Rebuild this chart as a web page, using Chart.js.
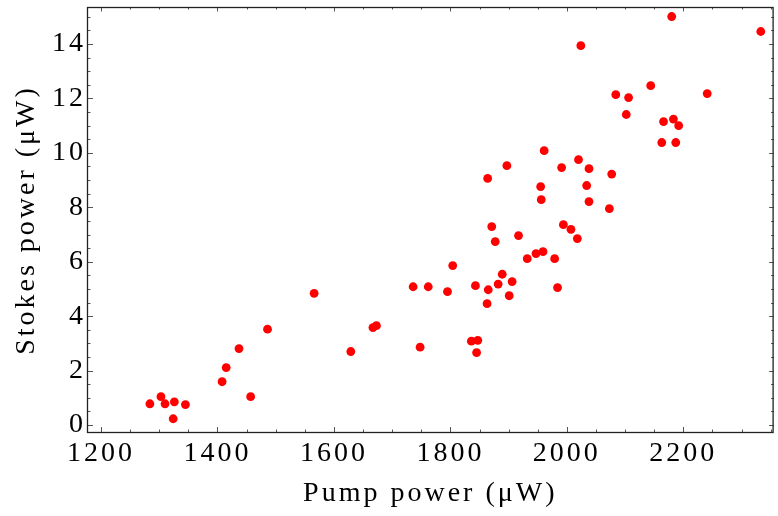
<!DOCTYPE html>
<html>
<head>
<meta charset="utf-8">
<script src="https://cdn.jsdelivr.net/npm/chart.js@4"></script>
<style>
  html,body{margin:0;padding:0;background:#fff;}
  #wrap{width:778px;height:516px;}
</style>
</head>
<body>
<div id="wrap"><canvas id="plot" width="778" height="516"></canvas></div>
<script>
// pump power (uW) and Stokes power (uW)
var pumpPower=[1284,1303,1310,1324,1326,1345,1408,1415,1437,1457,1486,
  1566,1629,1667,1673,1736,1762,1748,1795,1804,1836,1847,1845,1843,1865,1863,
  1877,1871,1917,1897,1864,1961,1991,2020,2038,2077,1955,2034,1956,2038,2073,
  1994,2007,2018,1932,1947,1959,1979,1889,1882,1906,1901,1984,
  2180,2333,2024,2144,2084,2106,2241,2102,2166,2183,2192,2163,2187];
var stokesPower=[0.78,1.04,0.78,0.23,0.85,0.75,1.59,2.11,2.81,1.04,3.52,
  4.84,2.70,3.58,3.65,5.08,5.08,2.86,4.90,5.86,3.08,3.11,2.66,5.12,4.97,4.46,
  6.74,7.29,6.96,9.53,9.06,10.08,9.46,9.75,9.42,9.22,8.76,8.80,8.28,8.21,7.95,
  7.36,7.19,6.85,6.11,6.30,6.37,6.11,5.54,5.18,5.27,4.75,5.05,
  15.01,14.46,13.94,12.47,12.14,12.03,12.18,11.41,11.15,11.24,11.00,10.38,10.38];
var xTicks=[1200,1400,1600,1800,2000,2200];
var yTicks=[0,2,4,6,8,10,12,14];

var points=pumpPower.map(function(p,i){return {x:p,y:stokesPower[i]};});
var serif='"Liberation Serif","Times New Roman",serif';

// Mathematica-like frame with inward ticks on all four sides
var framePlugin={
  id:'frame',
  beforeDraw:function(chart){
    chart.ctx.letterSpacing='3px';
  },
  afterDatasetsDraw:function(chart){
    var ctx=chart.ctx, a=chart.chartArea, sx=chart.scales.x, sy=chart.scales.y;
    ctx.save();
    ctx.strokeStyle='#555';
    ctx.lineWidth=1;
    ctx.beginPath();
    var v,px,major;
    for(v=1150;v<=sx.max;v+=50){
      if(v<sx.min)continue;
      px=Math.round(sx.getPixelForValue(v))+0.5;
      major=(v%200===0);
      ctx.moveTo(px,a.bottom);ctx.lineTo(px,a.bottom-(major?6:3.5));
      ctx.moveTo(px,a.top);ctx.lineTo(px,a.top+(major?4.5:2.5));
    }
    for(v=0;v<=sy.max;v+=0.5){
      px=Math.round(sy.getPixelForValue(v))+0.5;
      major=(Math.abs(v%2)<1e-9);
      ctx.moveTo(a.left,px);ctx.lineTo(a.left+(major?6:3.5),px);
      ctx.moveTo(a.right,px);ctx.lineTo(a.right-(major?4.5:2.5),px);
    }
    ctx.stroke();
    ctx.strokeStyle='#222';
    ctx.lineWidth=1.3;
    ctx.strokeRect(a.left+0.5,a.top+0.5,a.right-a.left-1,a.bottom-a.top-1);
    ctx.restore();
  }
};

new Chart(document.getElementById('plot'),{
  type:'scatter',
  data:{datasets:[{
    data:points,
    backgroundColor:'#ff0000',
    borderColor:'#ff0000',
    borderWidth:0,
    pointRadius:4.4,
    pointHoverRadius:4.4
  }]},
  options:{
    responsive:false,
    animation:false,
    events:[],
    layout:{padding:{top:7,right:1,left:0,bottom:0}},
    plugins:{legend:{display:false},tooltip:{enabled:false}},
    scales:{
      x:{
        type:'linear',min:1176,max:2355,
        grid:{display:false,drawTicks:false},
        border:{display:false},
        afterBuildTicks:function(s){s.ticks=xTicks.map(function(v){return {value:v};});},
        afterFit:function(s){s.height=83;s.paddingLeft=0;s.paddingRight=0;},
        ticks:{autoSkip:false,maxRotation:0,padding:4,color:'#000',
          callback:function(v){return String(v);},
          font:{family:serif,size:28}},
        title:{display:true,text:'Pump power (\u03bcW)',color:'#000',padding:{top:0,bottom:6},
          font:{family:serif,size:28}}
      },
      y:{
        type:'linear',min:-0.294,max:15.36,
        grid:{display:false,drawTicks:false},
        border:{display:false},
        afterBuildTicks:function(s){s.ticks=yTicks.map(function(v){return {value:v};});},
        afterFit:function(s){s.width=87;s.paddingTop=0;s.paddingBottom=0;},
        ticks:{autoSkip:false,padding:1,color:'#000',
          callback:function(v){return String(v);},
          font:{family:serif,size:28}},
        title:{display:true,text:'Stokes power (\u03bcW)',color:'#000',padding:{top:10,bottom:0},
          font:{family:serif,size:28}}
      }
    }
  },
  plugins:[framePlugin]
});
</script>
</body>
</html>
